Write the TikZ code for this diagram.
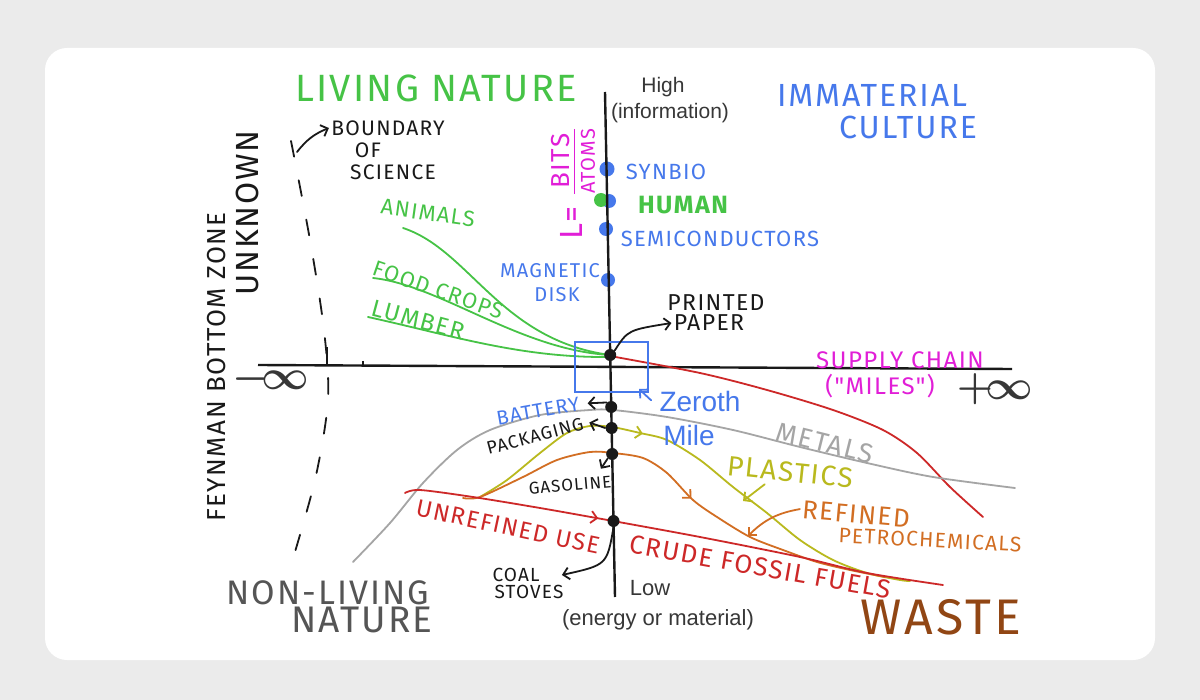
\documentclass[tikz,border=0pt]{standalone}
\usepackage{fontspec}
\setmainfont{Liberation Sans}
\newfontfamily\handfont[LetterSpace=6]{Fira Sans}
\usetikzlibrary{arrows.meta, decorations.markings, positioning}

\definecolor{bggray}{RGB}{235,235,235}
\definecolor{inkblack}{RGB}{25,25,25}
\definecolor{axistext}{RGB}{55,55,55}
\definecolor{natgreen}{RGB}{70,195,70}
\definecolor{cultblue}{RGB}{70,120,235}
\definecolor{bitsmagenta}{RGB}{225,30,215}
\definecolor{fuelred}{RGB}{205,40,40}
\definecolor{metalgray}{RGB}{165,165,165}
\definecolor{plasticyellow}{RGB}{185,185,30}
\definecolor{petroorange}{RGB}{210,110,35}
\definecolor{wastebrown}{RGB}{145,70,20}
\definecolor{stonegray}{RGB}{85,85,85}

\tikzset{>={Straight Barb[length=3pt,width=6pt]}}
\tikzset{
  hand/.style={font=\handfont\fontsize{#1}{#1}\selectfont, inner sep=1pt},
  sans/.style={font=\fontsize{#1}{#1}\selectfont, text=axistext, inner sep=1pt},
  chaindot/.style={circle, fill=inkblack, inner sep=0pt, minimum size=6pt},
  ink/.style={line width=0.9pt, line cap=round, line join=round},
  flowtip/.style={postaction={decorate},
    decoration={markings, mark=at position #1 with {\arrow{>}}}},
}

\begin{document}
\begin{tikzpicture}[x=0.5pt, y=-0.5pt]
  \useasboundingbox (0,0) rectangle (1200,700);
  \fill[bggray] (0,0) rectangle (1200,700);
  \fill[white, rounded corners=11pt] (45,48) rectangle (1155,660);

  % boundary of science
  \draw[ink, inkblack, dash pattern=on 8pt off 12pt] plot[smooth] coordinates
    {(291,141) (310,240) (324,330) (328,400) (315,480) (289,572)};
  \coordinate (bstart) at (297,152);

  % horizontal axis and ticks
  \draw[line width=1.2pt, inkblack] (258,365) -- (1012,369);
  \draw[line width=1pt, inkblack] (327,347) -- (327,366);
  \draw[line width=0.8pt, inkblack] (363,361) -- (363,366);

  % living nature
  \draw[ink, natgreen] (403,228) .. controls (470,250) and (500,340) .. (610,355);
  \draw[ink, natgreen] (373,278) .. controls (440,285) and (520,350) .. (610,355);
  \draw[ink, natgreen] (368,317) .. controls (450,335) and (520,358) .. (610,357);

  % supply chains
  \draw[ink, fuelred] plot[smooth] coordinates {(610,356) (700,373) (767,390)
    (833,410) (883,430) (917,453) (950,487) (983,517)};
  \draw[ink, metalgray] plot[smooth] coordinates {(353,562) (390,523) (423,483)
    (457,450) (490,430) (540,415) (590,410) (613,410) (667,417) (733,430)
    (800,447) (867,463) (933,477) (1015,488)};
  \draw[ink, plasticyellow, flowtip=93pt] plot[smooth] coordinates {(480,497)
    (507,480) (540,453) (567,433) (590,426) (612,427) (640,433) (667,440)
    (700,460) (733,487) (767,513) (800,540) (833,560) (867,573) (900,580) (910,581)};
  \draw[ink, petroorange, flowtip=127pt] plot[smooth] coordinates {(463,498)
    (480,497) (523,477) (557,460) (590,452) (613,453) (643,458) (667,473)
    (693,500) (717,517) (750,537) (783,550) (817,562) (850,570) (885,577)};
  \draw[ink, fuelred, flowtip=98pt] plot[smooth] coordinates {(405,493) (420,490)
    (473,497) (540,508) (602,519) (613,521) (700,537) (800,557) (867,573) (943,585)};
  \coordinate (plasticpt) at (743,501);
  \coordinate (refinedpt) at (748,536);

  % information scale
  \node[chaindot, fill=cultblue, minimum size=7.5pt] (synbio) at (607,169) {};
  \node[chaindot, fill=cultblue, minimum size=7pt] (humanblue) at (609,201) {};
  \node[chaindot, fill=natgreen, minimum size=7pt] (human) at (601,200) {};
  \node[chaindot, fill=cultblue, minimum size=7pt] (semi) at (606,229) {};
  \node[chaindot, fill=cultblue, minimum size=7pt] (magdisk) at (608,280) {};
  \draw[line width=1.2pt, inkblack] (605,92) -- (615,597);
  \foreach \n/\y in {paper/355, battery/407, packaging/428, gasoline/454, coal/521}
    \node[chaindot] (\n) at ({605+(\y-92)/50.5},\y) {};
  \node[draw=cultblue, line width=1pt, minimum width=36.5pt, minimum height=25pt,
    inner sep=0pt] (zerobox) at (611.5,367) {};

  % axis labels
  \node[sans=10.5] (high) at (663,87) {High};
  \node[sans=10.5] (information) at (670,113) {(information)};
  \node[sans=11] (low) at (650,588) {Low};
  \node[sans=11] (material) at (658,620) {(energy or material)};
  \node[text=axistext, font=\fontsize{20}{20}\selectfont\boldmath] (minusinf) at (271,379) {$-\!\infty$};
  \node[text=axistext, font=\fontsize{20}{20}\selectfont\boldmath] (plusinf) at (995,389) {$+\!\infty$};
  \node[text=cultblue, font=\fontsize{14}{14}\selectfont, inner sep=1pt] (zeroth) at (700,401) {Zeroth};
  \node[text=cultblue, font=\fontsize{14}{14}\selectfont, inner sep=1pt] (mile) at (689,435) {Mile};

  % regions
  \node[hand=19, natgreen] (living) at (436,88) {LIVING NATURE};
  \node[hand=16, cultblue] (immaterial) at (872,95) {IMMATERIAL};
  \node[hand=16, cultblue] (culture) at (908,127) {CULTURE};
  \node[hand=17, stonegray] (nonliving) at (328,593) {NON-LIVING};
  \node[hand=18.5, stonegray] (nature) at (362,620) {NATURE};
  \node[hand=25, wastebrown] (waste) at (941,617) {WASTE};
  \node[hand=16, inkblack, rotate=90] (unknown) at (247,213) {UNKNOWN};
  \node[hand=13, inkblack, rotate=90] (feynman) at (217,367) {FEYNMAN BOTTOM ZONE};
  \node[hand=10.5, inkblack] (boundary) at (388,128) {BOUNDARY};
  \node[hand=10.5, inkblack] (of) at (368,150) {OF};
  \node[hand=10.5, inkblack] (science) at (393,172) {SCIENCE};
  \node[hand=16, bitsmagenta, rotate=90] (bits) at (573,183)
    {L= $\frac{\mbox{\fontsize{13}{13}\selectfont BITS}}{\mbox{\fontsize{10}{10}\selectfont ATOMS}}$};

  % labels along the chains
  \node[hand=11, natgreen, rotate=-8] (animals) at (428,213) {ANIMALS};
  \node[hand=11, natgreen, rotate=-19] (food) at (438,290) {FOOD CROPS};
  \node[hand=12, natgreen, rotate=-15] (lumber) at (418,320) {LUMBER};
  \node[hand=11, cultblue] (synbiolbl) at (666,172) {SYNBIO};
  \node[hand=12.5, natgreen] (humanlbl) at (683,205) {\bfseries HUMAN};
  \node[hand=11, cultblue] (semilbl) at (720,239) {SEMICONDUCTORS};
  \node[hand=10, cultblue] (magnetic) at (550,271) {MAGNETIC};
  \node[hand=10, cultblue] (disk) at (557,295) {DISK};
  \node[hand=11.5, inkblack] (printed) at (716,303) {PRINTED};
  \node[hand=11.5, inkblack] (paperlbl) at (709,323) {PAPER};
  \node[hand=12, bitsmagenta] (supply) at (900,360) {SUPPLY CHAIN};
  \node[hand=12, bitsmagenta] (miles) at (880,386) {("MILES")};
  \node[hand=10, cultblue, rotate=10] (batterylbl) at (538,411) {BATTERY};
  \node[hand=9, inkblack, rotate=15] (packaginglbl) at (535,436) {PACKAGING};
  \node[hand=8.5, inkblack, rotate=5] (gasolinelbl) at (570,485) {GASOLINE};
  \node[hand=9.5, inkblack] (coallbl) at (516,575) {COAL};
  \node[hand=9.5, inkblack] (stoves) at (529,592) {STOVES};
  \node[hand=12, fuelred, rotate=-12] (unrefined) at (508,527) {UNREFINED USE};
  \node[hand=13, fuelred, rotate=-10] (crude) at (760,567) {CRUDE FOSSIL FUELS};
  \node[hand=13.5, metalgray, rotate=-14] (metals) at (825,443) {METALS};
  \node[hand=14, plasticyellow, rotate=-6] (plastics) at (790,472) {PLASTICS};
  \node[hand=13, petroorange, rotate=-5] (refined) at (856,514) {REFINED};
  \node[hand=10.5, petroorange, rotate=-3] (petro) at (930,540) {PETROCHEMICALS};

  % pointers
  \draw[ink, inkblack, ->] (bstart) to[bend left=15] (boundary.west);
  \draw[ink, inkblack, ->] (paper.north east) .. controls (628,330) .. (paperlbl.west);
  \draw[ink, cultblue, ->] ([xshift=-3pt,yshift=-6pt]zeroth.north west) -- ([xshift=-5pt,yshift=2pt]zerobox.south east);
  \draw[ink, inkblack, ->] (battery.north west) -- ([xshift=3pt]batterylbl.east);
  \draw[ink, inkblack, ->] (packaging.west) -- ([xshift=2pt]packaginglbl.east);
  \draw[ink, inkblack, ->] (gasoline.south west) -- ([xshift=-6pt,yshift=2pt]gasolinelbl.north east);
  \draw[ink, inkblack, ->] (coal.south) .. controls (607,565) .. ([xshift=10pt]coallbl.east);
  \draw[ink, plasticyellow, ->] ([xshift=-12pt]plastics.south) -- (plasticpt);
  \draw[ink, petroorange, ->] (refined.west) to[out=190, in=45] (refinedpt);
\end{tikzpicture}
\end{document}
